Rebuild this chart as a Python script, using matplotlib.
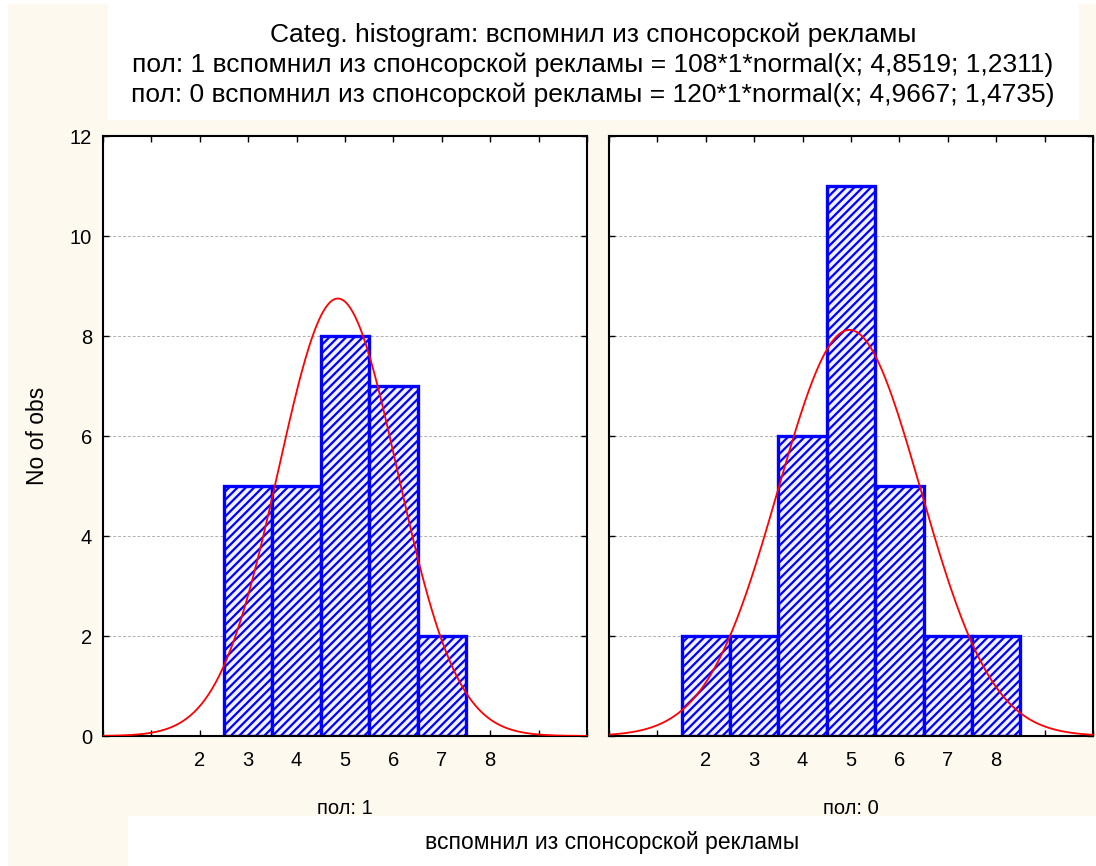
import numpy as np
import matplotlib
matplotlib.use("Agg")
import matplotlib.pyplot as plt
from matplotlib.patches import Rectangle

plt.rcParams['font.family'] = ['Liberation Sans', 'DejaVu Sans']
plt.rcParams['hatch.color'] = '#2424ff'
plt.rcParams['hatch.linewidth'] = 1.6

# данные
bins_1 = [3, 4, 5, 6, 7]
counts_1 = [5, 5, 8, 7, 2]
mean_1, sd_1 = 4.8519, 1.2311

bins_0 = [2, 3, 4, 5, 6, 7, 8]
counts_0 = [2, 2, 6, 11, 5, 2, 2]
mean_0, sd_0 = 4.9667, 1.4735

xtick_labels = [2, 3, 4, 5, 6, 7, 8]

title_lines = [
    "Categ. histogram: вспомнил из спонсорской рекламы",
    "пол: 1 вспомнил из спонсорской рекламы = 108*1*normal(x; 4,8519; 1,2311)",
    "пол: 0 вспомнил из спонсорской рекламы = 120*1*normal(x; 4,9667; 1,4735)",
]

fig = plt.figure(figsize=(10.96, 8.66), dpi=100)
fig.patch.set_facecolor('white')

# фон и белые плашки
W, H = 1096, 866
def px_rect(x0, y0, x1, y1, color, z):
    fig.patches.append(Rectangle((x0 / W, 1 - y1 / H), (x1 - x0) / W, (y1 - y0) / H,
                                 transform=fig.transFigure, facecolor=color,
                                 edgecolor='none', zorder=z))

px_rect(8, 4, 1096, 866, '#fdf9ef', -10)
px_rect(108, 4, 1079, 120, 'white', -9)

ax1 = fig.add_axes([103 / W, 1 - 736 / H, 484 / W, 600 / H])
ax2 = fig.add_axes([609 / W, 1 - 736 / H, 484 / W, 600 / H])

xs = np.linspace(0, 10, 400)

def gauss(x, n, m, s):
    return n / (s * np.sqrt(2 * np.pi)) * np.exp(-0.5 * ((x - m) / s) ** 2)

for ax, bins, counts, m, s, lab in [(ax1, bins_1, counts_1, mean_1, sd_1, "пол: 1"),
                                     (ax2, bins_0, counts_0, mean_0, sd_0, "пол: 0")]:
    ax.set_facecolor('white')
    ax.bar(bins, counts, width=1.0, facecolor='#f2f2ff', edgecolor='#0000ff',
           linewidth=2.4, hatch='////', zorder=2)
    ax.plot(xs, gauss(xs, sum(counts), m, s), color='red', lw=1.3, zorder=3)
    ax.set_xlim(0, 10)
    ax.set_ylim(0, 12)
    ax.set_yticks(range(0, 13, 2))
    ax.set_xticks(range(0, 11))
    ax.set_xticklabels(['' if i not in xtick_labels else str(i) for i in range(0, 11)])
    ax.grid(axis='y', color='#b0b0b0', linestyle=(0, (3, 2)), linewidth=0.7, zorder=0)
    ax.tick_params(direction='in', length=4, width=1, top=True, right=True,
                   labelsize=14.5, pad=11)
    ax.tick_params(axis='y', pad=8)
    for sp in ax.spines.values():
        sp.set_linewidth(1.5)
    ax.text(0.5, -0.12, lab, transform=ax.transAxes, ha='center', va='center', fontsize=14.5)

ax2.set_yticklabels([])
ax1.set_ylabel("No of obs", fontsize=16.5, labelpad=15)

for i, line in enumerate(title_lines):
    fig.text(593 / W, 1 - (35 + 30 * i) / H, line, ha='center', va='center', fontsize=19)

# белая плашка под подписью оси X
fig.patches.append(Rectangle((128 / W, 0), 1 - 128 / W, 50 / H, transform=fig.transFigure,
                             facecolor='white', edgecolor='none', zorder=5))
fig.text(612 / W, 1 - 843 / H, "вспомнил из спонсорской рекламы", ha='center', va='center',
         fontsize=16.5, zorder=6)

plt.savefig("out.png", dpi=100, facecolor=fig.get_facecolor())
plt.close()
